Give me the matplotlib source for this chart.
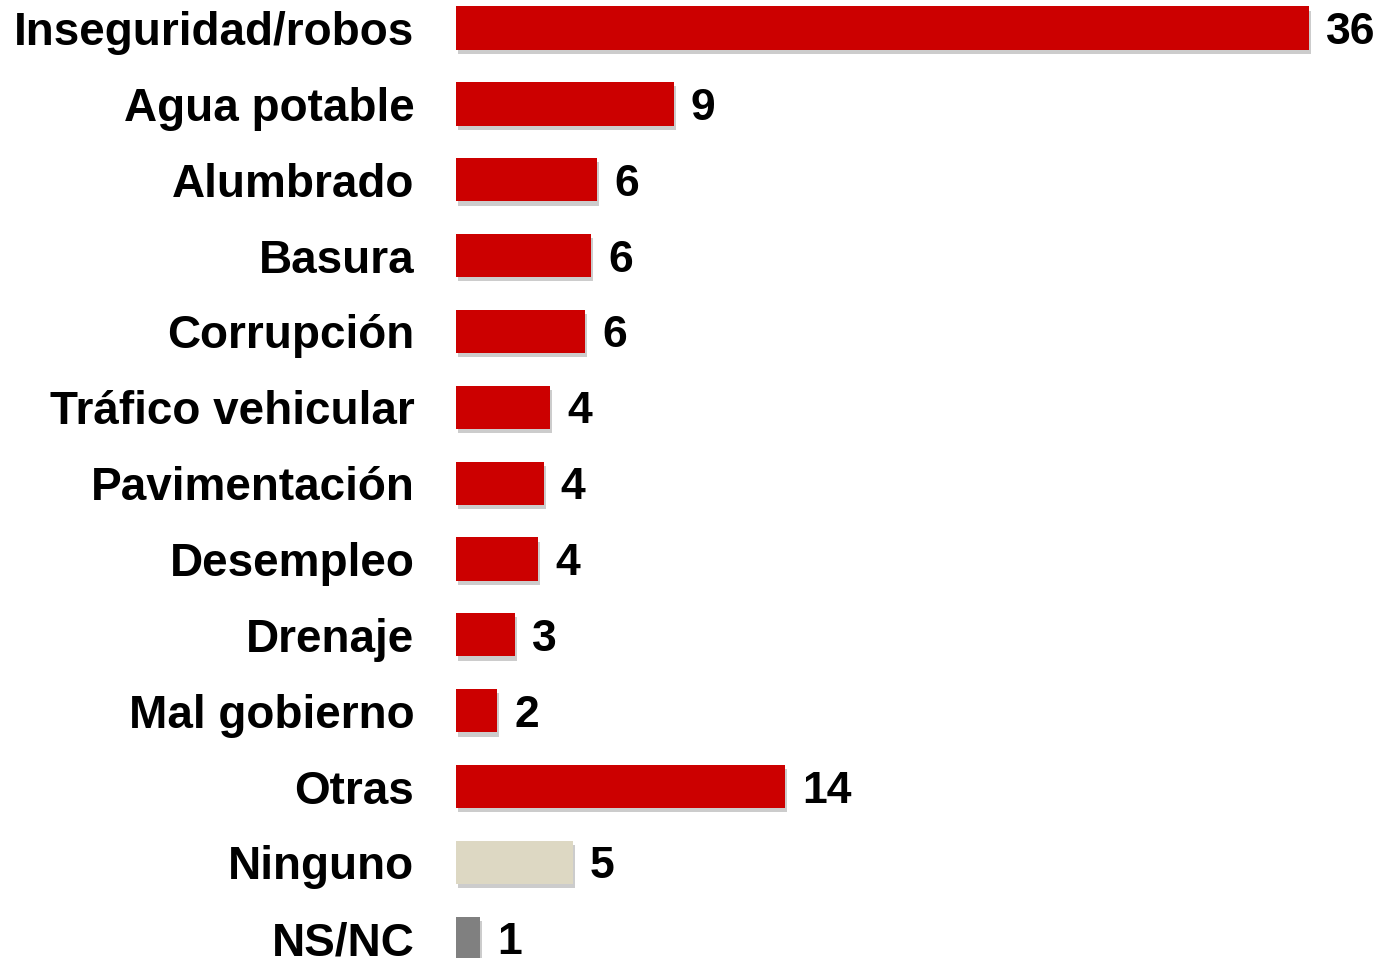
import matplotlib
matplotlib.use('Agg')
import matplotlib.pyplot as plt
import matplotlib.patheffects as pe

categorias = ['Inseguridad/robos', 'Agua potable', 'Alumbrado', 'Basura', 'Corrupción',
              'Tráfico vehicular', 'Pavimentación', 'Desempleo', 'Drenaje', 'Mal gobierno',
              'Otras', 'Ninguno', 'NS/NC']
valores = [36, 9.2, 5.95, 5.7, 5.45, 3.97, 3.7, 3.46, 2.49, 1.73, 13.9, 4.94, 1.01]
etiquetas = ['36', '9', '6', '6', '6', '4', '4', '4', '3', '2', '14', '5', '1']
colores = ['#CC0000'] * 11 + ['#DDD8C3', '#808080']

plt.rcParams['font.family'] = ['Liberation Sans', 'DejaVu Sans']

fig = plt.figure(figsize=(13.94, 9.58), dpi=100)
ax = fig.add_axes([456 / 1394, 0, 1 - 456 / 1394, 1])

pos = list(range(len(categorias)))
barras = ax.barh(pos, valores, height=0.57, color=colores)
for b in barras:
    b.set_path_effects([pe.SimplePatchShadow(offset=(1.5, -3), shadow_rgbFace='#aaaaaa', alpha=0.6),
                        pe.Normal()])

for p, v, t in zip(pos, valores, etiquetas):
    ax.text(v + 0.72, p, t, va='center_baseline', ha='left', fontsize=32, fontweight='bold')

ax.set_yticks(pos)
ax.set_yticklabels(categorias, fontsize=33, fontweight='bold')
ax.tick_params(axis='y', length=0, pad=30)
ax.set_ylim(12.26, -0.37)
ax.set_xlim(0, 39.6)
ax.set_xticks([])
for s in ax.spines.values():
    s.set_visible(False)

fig.savefig('out.png', dpi=100)
